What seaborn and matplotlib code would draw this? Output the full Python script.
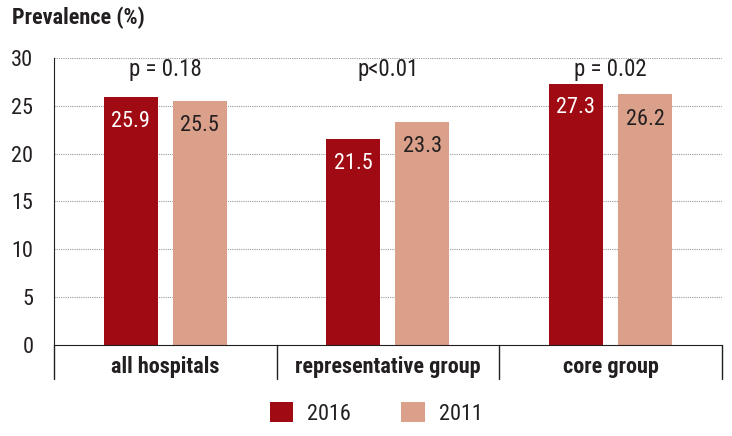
import matplotlib
matplotlib.use("Agg")
import matplotlib.pyplot as plt
import seaborn as sns
import pandas as pd
from matplotlib.patches import Patch
from matplotlib import font_manager as fm

categories = ["all hospitals", "representative group", "core group"]
years = ["2016", "2011"]
values_2016 = [25.9, 21.5, 27.3]
values_2011 = [25.5, 23.3, 26.2]
p_labels = ["p = 0.18", "p<0.01", "p = 0.02"]
y_ticks = [0, 5, 10, 15, 20, 25, 30]

sns.set_style("white")

# pick a condensed family if available
cond_family = None
cond_stretch = "normal"
names = {f.name for f in fm.fontManager.ttflist}
for cand in ["Liberation Sans Narrow", "Roboto Condensed", "Open Sans Condensed",
             "Noto Sans Condensed", "DejaVu Sans Condensed"]:
    if cand in names:
        cond_family = cand
        break
if cond_family is None:
    for f in fm.fontManager.ttflist:
        if f.name == "DejaVu Sans" and "condensed" in str(f.stretch).lower():
            cond_family = "DejaVu Sans"
            cond_stretch = "condensed"
            break
if cond_family is None:
    cond_family = "DejaVu Sans"
plt.rcParams['font.family'] = [cond_family, 'DejaVu Sans']
plt.rcParams['font.stretch'] = cond_stretch

dark = "#A00A12"
light = "#DBA08A"
ink = "#231F20"
num_w = "normal"

df = pd.DataFrame({
    "category": categories * 2,
    "year": [years[0]] * 3 + [years[1]] * 3,
    "value": values_2016 + values_2011,
})

fig = plt.figure(figsize=(7.32, 4.36), dpi=100)
ax = fig.add_axes([0.0738, 0.2087, 0.9122, 0.6583])

sns.barplot(data=df, x="category", y="value", hue="year", order=categories,
            hue_order=years, palette=[dark, light], width=0.62, gap=0.22,
            ax=ax, legend=False, saturation=1, linewidth=0)

ax.set_xlim(-0.5, 2.5)
ax.set_ylim(0, 30)
ax.set_yticks(y_ticks)
ax.set_yticklabels([str(t) for t in y_ticks], fontsize=16, fontweight=num_w)
ax.set_xlabel("")
ax.set_ylabel("")
for t in y_ticks[1:]:
    ax.axhline(t, color="#999999", linestyle=(0, (1, 1)), linewidth=0.8, zorder=0)

for s in ["top", "right"]:
    ax.spines[s].set_visible(False)
ax.spines["left"].set_color(ink)
ax.spines["bottom"].set_color(ink)
ax.tick_params(axis="y", length=9.4, width=1.0, color=ink, pad=5.5, labelcolor=ink)

ax.set_xticks([0, 1, 2])
ax.set_xticklabels(categories, fontsize=16, fontweight="bold", color=ink)
ax.tick_params(axis="x", which="major", length=0, pad=8)

# category separators below the axis
for xs in [-0.5, 0.5, 1.5, 2.5]:
    ax.plot([xs, xs], [0, -3.6], color=ink, linewidth=1.0, clip_on=False)

bars_2016 = ax.containers[0]
bars_2011 = ax.containers[1]
for bar, v in zip(bars_2016, values_2016):
    ax.text(bar.get_x() + bar.get_width() / 2, v - 2.5, f"{v:.1f}",
            ha="center", va="center", color="white", fontsize=16, fontweight=num_w)
for bar, v in zip(bars_2011, values_2011):
    ax.text(bar.get_x() + bar.get_width() / 2, v - 2.6, f"{v:.1f}",
            ha="center", va="center", color=ink, fontsize=16, fontweight=num_w)

for i, p in enumerate(p_labels):
    ax.text(i, 28.8, p, ha="center", va="center", color=ink, fontsize=16.5,
            fontweight=num_w)

fig.text(0.017, 0.96, "Prevalence (%)", fontsize=16, fontweight="bold",
         ha="left", va="center", color=ink)

handles = [Patch(facecolor=dark, edgecolor="none"), Patch(facecolor=light, edgecolor="none")]
fig.legend(handles, years, loc="center", bbox_to_anchor=(0.514, 0.052), ncol=2,
           frameon=False, handlelength=1.05, handleheight=1.05,
           columnspacing=2.25, handletextpad=0.63, labelcolor=ink,
           prop={"size": 16, "weight": num_w})

fig.savefig("out.png", dpi=100)
